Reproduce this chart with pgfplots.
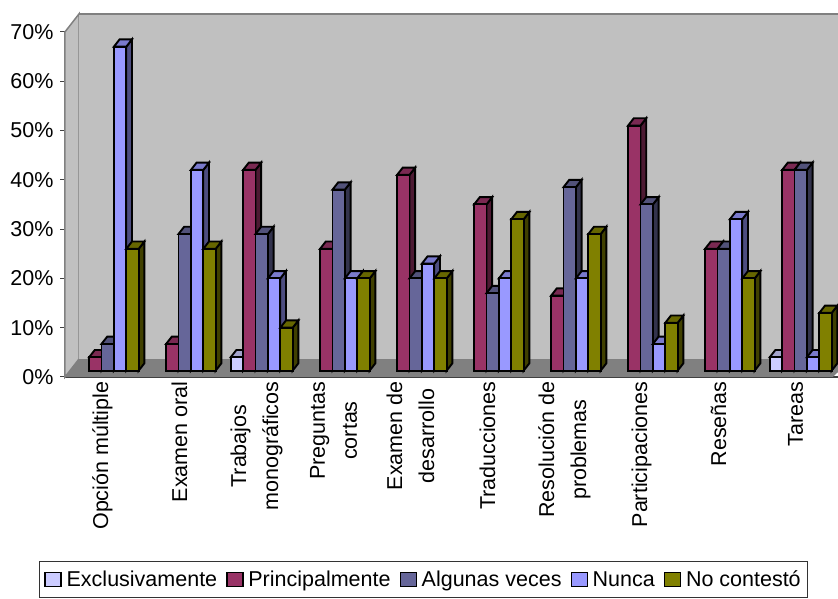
\documentclass[border=0pt]{standalone}
\usepackage{fontspec}
\setmainfont{Liberation Sans}
\usepackage{pgfplots}
\pgfplotsset{compat=1.18}

\definecolor{wall}{HTML}{C0C0C0}
\definecolor{floorc}{HTML}{808080}
\definecolor{colE}{HTML}{CCCCFF}\definecolor{colEt}{HTML}{A3A3CC}\definecolor{colEs}{HTML}{666680}
\definecolor{colP}{HTML}{993366}\definecolor{colPt}{HTML}{7A2952}\definecolor{colPs}{HTML}{4D1A33}
\definecolor{colA}{HTML}{666699}\definecolor{colAt}{HTML}{52527A}\definecolor{colAs}{HTML}{33334D}
\definecolor{colN}{HTML}{9999FF}\definecolor{colNt}{HTML}{7A7ACC}\definecolor{colNs}{HTML}{4D4D80}
\definecolor{colO}{HTML}{808000}\definecolor{colOt}{HTML}{666600}\definecolor{colOs}{HTML}{404000}

% one bar: category (0-9), slot (0-4), value, colour prefix
\newcommand{\onebar}[4]{%
  \pgfmathsetmacro\xa{#1+0.152+#2*0.161}%
  \pgfmathsetmacro\xb{\xa+0.161}%
  \pgfmathsetmacro\xc{\xb+0.074}%
  \pgfmathsetmacro\xd{\xa+0.074}%
  \pgfmathsetmacro\yt{#3+1.48}%
  \pgfmathsetmacro\yb{1.3+1.48}%
  \edef\tmp{%
    \noexpand\addplot[forget plot,barline,fill=#4s] coordinates {(\xb,1.3) (\xc,\yb) (\xc,\yt) (\xb,#3)} --cycle;
    \noexpand\addplot[forget plot,barline,fill=#4t] coordinates {(\xa,#3) (\xd,\yt) (\xc,\yt) (\xb,#3)} --cycle;
    \noexpand\addplot[forget plot,barline,fill=#4] coordinates {(\xa,1.3) (\xb,1.3) (\xb,#3) (\xa,#3)} --cycle;
  }\tmp
}
% one series: slot, colour prefix, list of category/value
\newcommand{\oneseries}[3]{%
  \foreach \c/\v in {#3} {\onebar{\c}{#1}{\v}{#2}}%
}

\begin{document}
\begin{tikzpicture}[x=1pt,y=1pt]
\useasboundingbox (0,0) rectangle (838,599);
\begin{axis}[
    at={(65pt,222pt)}, anchor=south west,
    x=77pt, y=4.93pt,
    xmin=0, xmax=10.039, ymin=0, ymax=70,
    clip=false,
    axis x line*=bottom, axis y line*=left,
    axis line style={-, color=black!75, line width=1.5pt},
    barline/.style={black, line width=1.9pt, line join=miter, mark=none},
    font=\fontsize{21.5}{32}\selectfont,
    ytick={0,10,...,70},
    yticklabels={0\%,10\%,20\%,30\%,40\%,50\%,60\%,70\%},
    ytick style={color=black!75, line width=1pt},
    tick align=outside,
    major tick length=5pt,
    minor tick length=5pt,
    xtick={0.5,1.5,...,9.5},
    minor xtick={0,1,...,10},
    xtick style={draw=none},
    minor x tick style={color=black!75, line width=1pt},
    xticklabels={Opción múltiple,Examen oral,Trabajos\\monográficos,Preguntas\\cortas,Examen de\\desarrollo,Traducciones,Resolución de\\problemas,Participaciones,Reseñas,Tareas},
    xticklabel style={rotate=90, anchor=east, align=center, yshift=1pt},
    xticklabel shift=-4pt,
    yticklabel style={xshift=-3pt},
    legend columns=-1,
    legend style={at={(-26pt,-184pt)}, anchor=north west, draw=black!80, line width=1pt,
        inner xsep=5pt, inner ysep=7.5pt, font=\fontsize{21.5}{24}\selectfont,
        /tikz/every even column/.append style={column sep=7pt},
        cells={anchor=west, text height=15pt, text depth=5pt}},
    legend image code/.code={\draw[#1, line width=1.3pt] (0pt,-7pt) rectangle (16pt,7pt); \path (19pt,0pt);},
]
% walls and floor
\addplot[forget plot, draw=floorc, line width=1.5pt, fill=wall] coordinates {(0,0) (0.182,3.65) (0.182,73.65) (0,70)} --cycle;
\addplot[forget plot, draw=none, fill=wall] coordinates {(0.182,3.65) (10.039,3.65) (10.039,73.65) (0.182,73.65)} --cycle;
\addplot[forget plot, draw=floorc, line width=2pt] coordinates {(0.182,73.65) (10.039,73.65)};
\addplot[forget plot, draw=none, fill=floorc] coordinates {(0,0) (0.182,3.65) (10.039,3.65) (10.039,1) (9.97,0)} --cycle;

\oneseries{0}{colE}{2/4, 9/4}
\oneseries{1}{colP}{0/4, 1/6.7, 2/42, 3/26, 4/41, 5/35, 6/16.5, 7/51, 8/26, 9/42}
\oneseries{2}{colA}{0/6.7, 1/29, 2/29, 3/38, 4/20, 5/17, 6/38.5, 7/35, 8/26, 9/42}
\oneseries{3}{colN}{0/67, 1/42, 2/20, 3/20, 4/23, 5/20, 6/20, 7/6.7, 8/32, 9/4}
\oneseries{4}{colO}{0/26, 1/26, 2/10, 3/20, 4/20, 5/32, 6/29, 7/11, 8/20, 9/13}

\addlegendimage{fill=colE}
\addlegendimage{fill=colP}
\addlegendimage{fill=colA}
\addlegendimage{fill=colN}
\addlegendimage{fill=colO}
\legend{Exclusivamente,Principalmente,Algunas veces,Nunca,No contestó\hspace{12pt}}
\end{axis}
\end{tikzpicture}
\end{document}
